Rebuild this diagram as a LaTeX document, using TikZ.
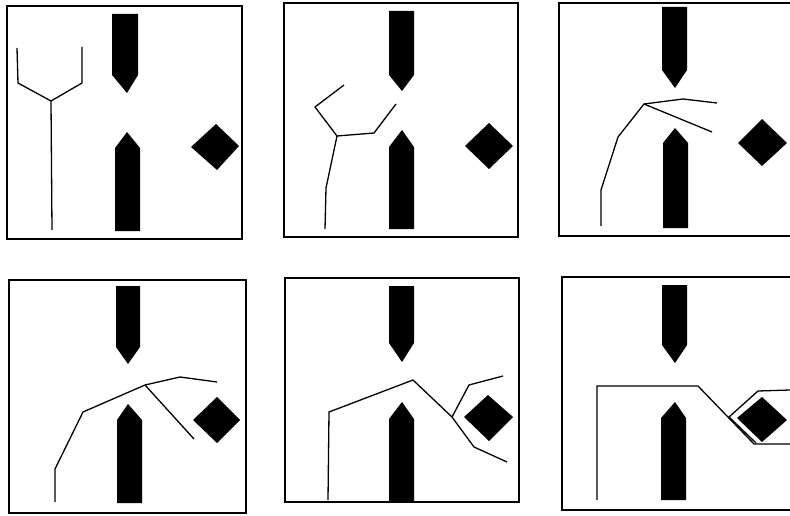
\documentclass[tikz,border=0pt]{standalone}
\begin{document}
\begin{tikzpicture}[x=1pt,y=-1pt,
  frame/.style={line width=1.4pt},
  wire/.style={line width=1.3pt,line join=miter},
  pin/.style={fill=black}]
\useasboundingbox (0,0) rectangle (790,516);
\draw[frame] (7,6) rectangle (242,239);
\fill[pin] (112,14) -- (138,14) -- (138,75) -- (127,93) -- (112,75) -- cycle;
\fill[pin] (127,132) -- (140,148) -- (140,231) -- (115,231) -- (115,148) -- cycle;
\fill[pin] (191,147) -- (216,124) -- (239,146) -- (217,170) -- cycle;
\draw[wire] (52,230) -- (51,101) -- (18,83) -- (17,48);
\draw[wire] (51,101) -- (82,83) -- (82,47);
\draw[frame] (284,3) rectangle (518,237);
\fill[pin] (389,11) -- (414,11) -- (414,75) -- (402,91) -- (389,75) -- cycle;
\fill[pin] (402,130) -- (414,147) -- (414,229) -- (389,229) -- (389,147) -- cycle;
\fill[pin] (465,146) -- (489,123) -- (513,146) -- (489,169) -- cycle;
\draw[wire] (325,229) -- (326,188) -- (337,136) -- (315,107) -- (344,85);
\draw[wire] (337,136) -- (374,133) -- (396,104);
\draw[frame] (795,3) -- (559,3) -- (559,236) -- (795,236);
\fill[pin] (662,7) -- (687,7) -- (687,70) -- (675,88) -- (662,70) -- cycle;
\fill[pin] (675,128) -- (688,143) -- (688,228) -- (663,228) -- (663,143) -- cycle;
\fill[pin] (738,143) -- (762,119) -- (787,143) -- (762,166) -- cycle;
\draw[wire] (601,226) -- (601,190) -- (618,137) -- (644,104) -- (683,99) -- (717,103);
\draw[wire] (644,104) -- (712,132);
\draw[frame] (9,280) rectangle (246,513);
\fill[pin] (116,286) -- (140,286) -- (140,347) -- (128,364) -- (116,347) -- cycle;
\fill[pin] (128,404) -- (142,420) -- (142,503) -- (117,503) -- (117,420) -- cycle;
\fill[pin] (193,420) -- (217,397) -- (240,420) -- (217,443) -- cycle;
\draw[wire] (55,502) -- (55,469) -- (83,412) -- (145,385) -- (180,377) -- (217,382);
\draw[wire] (145,385) -- (194,439);
\draw[frame] (285,278) rectangle (519,502);
\fill[pin] (389,286) -- (414,286) -- (414,343) -- (402,362) -- (389,343) -- cycle;
\fill[pin] (402,402) -- (414,419) -- (414,502) -- (389,502) -- (389,419) -- cycle;
\fill[pin] (464,417) -- (488,395) -- (513,417) -- (489,441) -- cycle;
\draw[wire] (328,500) -- (329,412) -- (413,380) -- (452,417) -- (474,447) -- (507,462);
\draw[wire] (452,417) -- (469,385) -- (503,376);
\draw[frame] (795,277) -- (562,277) -- (562,510) -- (795,510);
\fill[pin] (662,285) -- (687,285) -- (687,345) -- (675,363) -- (662,345) -- cycle;
\fill[pin] (675,402) -- (686,418) -- (686,500) -- (661,500) -- (661,418) -- cycle;
\fill[pin] (737,418) -- (762,397) -- (787,420) -- (762,442) -- cycle;
\draw[wire] (597,500) -- (597,386) -- (698,386) -- (754,444) -- (790,444);
\draw[wire] (790,390) -- (758,391) -- (729,417) -- (756,443);
\end{tikzpicture}
\end{document}
